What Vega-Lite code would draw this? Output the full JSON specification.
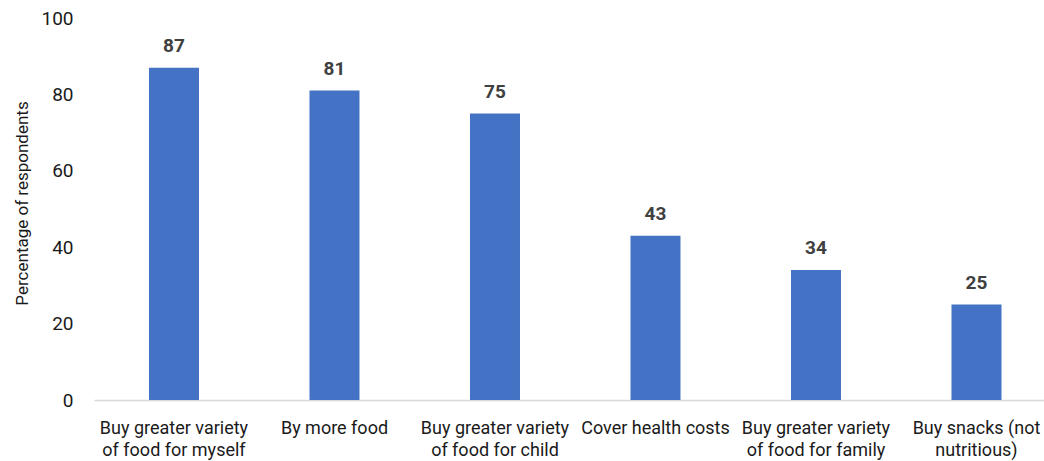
{
  "$schema": "https://vega.github.io/schema/vega-lite/v6.json",
  "width": 950,
  "height": 382,
  "autosize": {"type": "none"},
  "padding": {"left": 94, "top": 18, "right": 0, "bottom": 61},
  "background": "white",
  "config": {"view": {"stroke": null}, "font": "Roboto"},
  "data": {
    "values": [
      {"label": "Buy greater variety\nof food for myself", "value": 87},
      {"label": "By more food", "value": 81},
      {"label": "Buy greater variety\nof food for child", "value": 75},
      {"label": "Cover health costs", "value": 43},
      {"label": "Buy greater variety\nof food for family", "value": 34},
      {"label": "Buy snacks (not\nnutritious)", "value": 25}
    ]
  },
  "encoding": {
    "x": {
      "field": "label",
      "type": "nominal",
      "sort": null,
      "scale": {"paddingInner": 0.6885, "paddingOuter": 0.3037, "align": 0.564},
      "axis": {
        "title": null,
        "labelAngle": 0,
        "labelExpr": "split(datum.label, '\\n')",
        "labelFont": "Roboto",
        "labelFontSize": 18,
        "labelColor": "#1a1a1a",
        "labelLineHeight": 22,
        "labelBaseline": "alphabetic",
        "labelPadding": 33,
        "ticks": false,
        "tickSize": 0,
        "domainColor": "#D9D9D9",
        "domainWidth": 1.5,
        "grid": false
      }
    },
    "y": {
      "field": "value",
      "type": "quantitative",
      "scale": {"domain": [0, 100]},
      "axis": {
        "title": "Percentage of respondents",
        "titleFont": "Roboto",
        "titleFontSize": 17,
        "titleFontWeight": "normal",
        "titleColor": "#1a1a1a",
        "titleAngle": -90,
        "titleAlign": "center",
        "titleBaseline": "alphabetic",
        "titleX": -67,
        "titleY": 185,
        "values": [0, 20, 40, 60, 80, 100],
        "labelFont": "Roboto",
        "labelFontSize": 19,
        "labelColor": "#1a1a1a",
        "labelPadding": 21,
        "labelBaseline": "middle",
        "ticks": false,
        "tickSize": 0,
        "domain": false,
        "grid": false
      }
    }
  },
  "layer": [
    {"mark": {"type": "bar", "color": "#4472C4"}},
    {
      "mark": {"type": "text", "dy": -16, "baseline": "alphabetic", "fontWeight": "bold", "fontSize": 19, "color": "#404040", "font": "Roboto"},
      "encoding": {"text": {"field": "value", "type": "quantitative"}}
    }
  ]
}
